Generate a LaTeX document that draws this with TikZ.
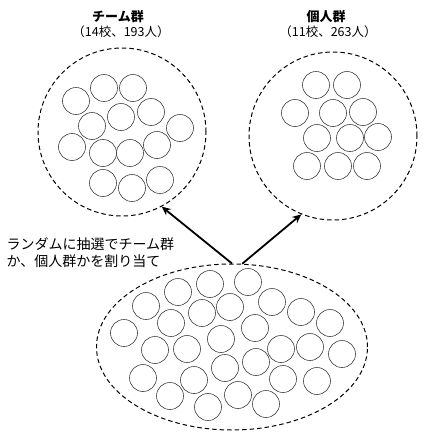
\documentclass[tikz,border=0pt]{standalone}
\usepackage{fontspec}
\usepackage{tikz}
\usetikzlibrary{shapes, positioning}
\usetikzlibrary{arrows.meta}
\setmainfont{Liberation Sans}
\newfontfamily\jpfont{Noto Sans CJK JP}

\begin{document}
\begin{tikzpicture}[x=1pt, y=-1pt,
	group/.style={draw, dash pattern=on 4.5pt off 3pt, line width=1pt, inner sep=0pt},
	member/.style={draw=black!75, line width=0.6pt},
	assign/.style={line width=1.8pt, -{Stealth[length=9pt, width=8pt]}},
	grouptitle/.style={font=\jpfont\fontsize{12.5}{14}\selectfont, align=center}]
	\useasboundingbox (0,0) rectangle (430,440);
	
	% Draw group outlines
	\node[group, circle, minimum size=168pt] (team) at (122,132) {};
	\node[group, circle, minimum size=168pt] (indiv) at (333,136) {};
	\node[group, ellipse, minimum width=271pt, minimum height=166pt] (pool) at (232,347) {};
	
	% Draw titles
	\node[grouptitle, font=\jpfont\bfseries\fontsize{13}{14}\selectfont] (teamtitle) at (118,17) {チーム群};
	\node[grouptitle] (teamcount) at (121,32) {（14校、193人）};
	\node[grouptitle, font=\jpfont\bfseries\fontsize{13}{14}\selectfont] (indivtitle) at (326,17) {個人群};
	\node[grouptitle] (indivcount) at (328,32) {（11校、263人）};
	
	% Draw schools in team group
	\foreach \x/\y in {76/101, 104/88, 133/88, 151/112, 121/117, 92/126, 180/128,
		72/147, 103/153, 130/153, 157/145, 103/183, 132/188, 160/180}
	\draw[member] (\x,\y) circle[radius=13.5pt];
	
	% Draw schools in individual group
	\foreach \x/\y in {316/85, 347/85, 295/113, 333/113, 363/112,
		317/138, 350/138, 378/137, 307/166, 338/166, 367/166}
	\draw[member] (\x,\y) circle[radius=13.5pt];
	
	% Draw schools before assignment
	\foreach \x/\y in {124/333, 146/306, 178/292, 210/284, 248/282, 171/323, 202/313,
		230/307, 272/302, 301/312, 330/323, 255/328, 221/339, 155/350,
		187/349, 281/349, 310/347, 342/354, 225/368, 256/362, 143/378,
		194/380, 283/379, 317/381, 170/396, 238/395, 266/404, 208/407}
	\draw[member] (\x,\y) circle[radius=13.5pt];
	
	% Draw assignment arrows
	\node[anchor=west, align=left, font=\jpfont\fontsize{14}{17}\selectfont] (rule) at (3,253)
		{ランダムに抽選でチーム群\\か、個人群かを割り当て};
	\draw[assign] (pool.90) -- (team.-62);
	\draw[assign] (pool.83) -- (indiv.-112);
	
\end{tikzpicture}
\end{document}
